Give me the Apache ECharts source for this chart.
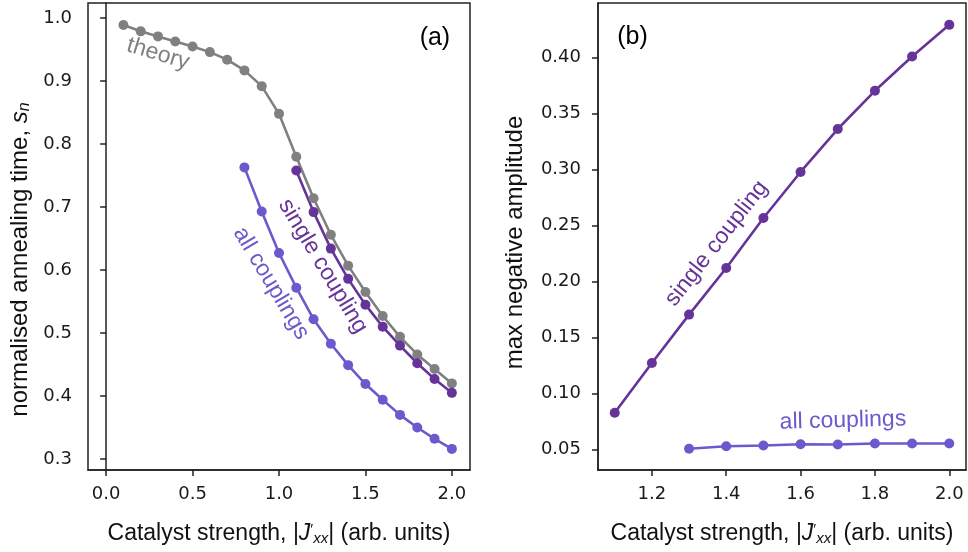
<!DOCTYPE html>
<html>
<head>
<meta charset="utf-8">
<script src="https://cdn.jsdelivr.net/npm/echarts@6/dist/echarts.min.js"></script>
<style>
  html, body { margin: 0; padding: 0; background: #fff; }
  #chart { width: 968px; height: 552px; }
</style>
</head>
<body>
<div id="chart"></div>
<script>
// ---------- data ----------
const theoryX = [0.1, 0.2, 0.3, 0.4, 0.5, 0.6, 0.7, 0.8, 0.9, 1.0, 1.1, 1.2, 1.3, 1.4, 1.5, 1.6, 1.7, 1.8, 1.9, 2.0];
const theoryY = [0.989, 0.979, 0.971, 0.963, 0.955, 0.946, 0.934, 0.917, 0.892, 0.848, 0.780, 0.714, 0.656, 0.607, 0.565, 0.527, 0.494, 0.466, 0.443, 0.420];

const singleX = [1.1, 1.2, 1.3, 1.4, 1.5, 1.6, 1.7, 1.8, 1.9, 2.0];
const singleY = [0.758, 0.692, 0.634, 0.586, 0.545, 0.510, 0.480, 0.452, 0.427, 0.405];

const allX = [0.8, 0.9, 1.0, 1.1, 1.2, 1.3, 1.4, 1.5, 1.6, 1.7, 1.8, 1.9, 2.0];
const allY = [0.763, 0.693, 0.627, 0.572, 0.522, 0.483, 0.449, 0.419, 0.394, 0.370, 0.350, 0.332, 0.316];

const ampSingleX = [1.1, 1.2, 1.3, 1.4, 1.5, 1.6, 1.7, 1.8, 1.9, 2.0];
const ampSingleY = [0.083, 0.1275, 0.1706, 0.2122, 0.2568, 0.2978, 0.3361, 0.3702, 0.4008, 0.429];

const ampAllX = [1.3, 1.4, 1.5, 1.6, 1.7, 1.8, 1.9, 2.0];
const ampAllY = [0.0509, 0.0532, 0.0538, 0.0550, 0.0547, 0.0556, 0.0556, 0.0556];

// tick labels
const leftXTicks = [0.0, 0.5, 1.0, 1.5, 2.0];
const leftYTicks = [0.3, 0.4, 0.5, 0.6, 0.7, 0.8, 0.9, 1.0];
const rightXTicks = [1.2, 1.4, 1.6, 1.8, 2.0];
const rightYTicks = [0.05, 0.10, 0.15, 0.20, 0.25, 0.30, 0.35, 0.40];

// annotation texts
const annotations = [
  { text: 'theory', panel: 0, at: [0.30, 0.943], rot: -17, color: '#808080' },
  { text: 'single coupling', panel: 0, at: [1.254, 0.606], rot: -59, color: '#663399' },
  { text: 'all couplings', panel: 0, at: [0.954, 0.579], rot: -59, color: '#6a5acd' },
  { text: '(a)', panel: 0, at: [1.902, 0.968], rot: 0, color: '#000', size: 25 },
  { text: 'single coupling', panel: 1, at: [1.374, 0.234], rot: 52, color: '#663399' },
  { text: 'all couplings', panel: 1, at: [1.714, 0.076], rot: 1.5, color: '#6a5acd' },
  { text: '(b)', panel: 1, at: [1.148, 0.418], rot: 0, color: '#000', size: 25 }
];

const GREY = '#808080', PURPLE = '#663399', SLATE = '#6a5acd';
const TICK_FONT = 'DejaVu Sans';
const LABEL_FONT = 'Liberation Sans, Arial, sans-serif';

function pairs(xs, ys) { return xs.map((x, i) => [x, ys[i]]); }

function valueAxis(gridIndex, min, max, ticks, digits, margin, extra) {
  return Object.assign({
    type: 'value', gridIndex, min, max,
    axisLine: { show: true, lineStyle: { color: '#222', width: 1.5 } },
    axisTick: { show: true, inside: false, length: 6, customValues: ticks, lineStyle: { color: '#222', width: 1.5 } },
    axisLabel: {
      customValues: ticks, fontFamily: TICK_FONT, fontSize: 18, color: '#1a1a1a', margin,
      formatter: v => Number(v).toFixed(digits)
    },
    splitLine: { show: false }
  }, extra || {});
}

function richFor(size) {
  return {
    i: { fontStyle: 'italic', fontFamily: LABEL_FONT, fontSize: size, color: '#111' },
    sub: { fontStyle: 'italic', fontFamily: LABEL_FONT, fontSize: Math.round(size * 0.66), color: '#111', padding: [10, 0, 0, 0] },
    sup: { fontFamily: LABEL_FONT, fontSize: Math.round(size * 0.66), color: '#111', padding: [0, 0, 8, 0] }
  };
}

function lineSeries(name, xi, yi, data, color) {
  return {
    name, type: 'line', xAxisIndex: xi, yAxisIndex: yi, data,
    symbol: 'circle', symbolSize: 10, showSymbol: true,
    lineStyle: { color, width: 2.6 },
    itemStyle: { color, borderWidth: 0 },
    emphasis: { disabled: true },
    animation: false
  };
}

const chart = echarts.init(document.getElementById('chart'), null, { renderer: 'canvas' });

const xName = 'Catalyst strength, |{i|J}{sup|′}{sub|xx}| (arb. units)';

const option = {
  backgroundColor: '#fff',
  animation: false,
  grid: [
    { left: 88, right: 498, top: 3, bottom: 82, show: true, borderColor: '#222', borderWidth: 1.5, backgroundColor: 'transparent' },
    { left: 598, right: 2, top: 3, bottom: 82, show: true, borderColor: '#222', borderWidth: 1.5, backgroundColor: 'transparent' }
  ],
  xAxis: [
    valueAxis(0, -0.105, 2.105, leftXTicks, 1, 15, {
      name: xName, nameLocation: 'middle', nameGap: 51,
      nameTextStyle: { fontFamily: LABEL_FONT, fontSize: 23, color: '#111', rich: richFor(23) }
    }),
    valueAxis(1, 1.055, 2.045, rightXTicks, 1, 15, {
      name: xName, nameLocation: 'middle', nameGap: 51,
      nameTextStyle: { fontFamily: LABEL_FONT, fontSize: 23, color: '#111', rich: richFor(23) }
    })
  ],
  yAxis: [
    valueAxis(0, 0.2825, 1.024, leftYTicks, 1, 16, {
      name: 'normalised annealing time, {i|s}{sub|n}',
      nameLocation: 'middle', nameGap: 55, nameRotate: 90,
      nameTextStyle: { fontFamily: LABEL_FONT, fontSize: 24, color: '#111', rich: richFor(24), padding: [0, 46, 0, 0] }
    }),
    valueAxis(1, 0.032, 0.4485, rightYTicks, 2, 17, {
      name: 'max negative amplitude',
      nameLocation: 'middle', nameGap: 71, nameRotate: 90,
      nameTextStyle: { fontFamily: LABEL_FONT, fontSize: 24, color: '#111', padding: [0, 12, 0, 0] }
    })
  ],
  series: [
    lineSeries('theory', 0, 0, pairs(theoryX, theoryY), GREY),
    lineSeries('single coupling', 0, 0, pairs(singleX, singleY), PURPLE),
    lineSeries('all couplings', 0, 0, pairs(allX, allY), SLATE),
    lineSeries('single coupling (b)', 1, 1, pairs(ampSingleX, ampSingleY), PURPLE),
    lineSeries('all couplings (b)', 1, 1, pairs(ampAllX, ampAllY), SLATE)
  ]
};

chart.setOption(option);

// place annotation text using the chart's own coordinate conversion
const graphics = annotations.map(a => {
  const p = chart.convertToPixel({ gridIndex: a.panel }, a.at);
  return {
    type: 'text',
    x: p[0], y: p[1],
    rotation: a.rot * Math.PI / 180,
    silent: true,
    style: {
      text: a.text,
      fill: a.color,
      font: (a.size || 23) + 'px ' + LABEL_FONT,
      align: 'center',
      verticalAlign: 'middle'
    }
  };
});
chart.setOption({ graphic: graphics });
</script>
</body>
</html>
